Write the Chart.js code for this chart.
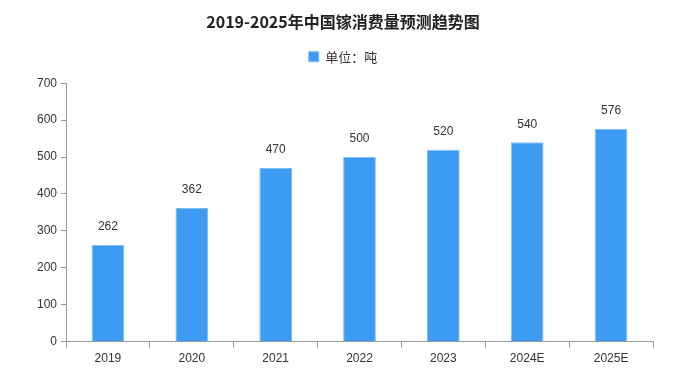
<!DOCTYPE html>
<html>
<head>
<meta charset="utf-8">
<script src="https://cdn.jsdelivr.net/npm/chart.js@4/dist/chart.umd.min.js"></script>
<style>
html,body{margin:0;padding:0;background:#fff;}
#wrap{width:699px;height:378px;}
</style>
</head>
<body>
<div id="wrap"><canvas id="c" width="699" height="378"></canvas></div>
<script>
const categories = ['2019','2020','2021','2022','2023','2024E','2025E'];
const consumption = [262,362,470,500,520,540,576];
const yTicks = [0,100,200,300,400,500,600,700];
const titleText = '2019-2025年中国镓消费量预测趋势图';
const seriesName = '单位：吨';

const labelPlugin = {
  id: 'barLabels',
  afterDatasetsDraw(chart) {
    const ctx = chart.ctx;
    const meta = chart.getDatasetMeta(0);
    ctx.save();
    ctx.font = '12px "Liberation Sans", Arial, sans-serif';
    ctx.fillStyle = '#333';
    ctx.textAlign = 'center';
    ctx.textBaseline = 'middle';
    meta.data.forEach((bar, i) => {
      ctx.fillText(String(chart.data.datasets[0].data[i]), bar.x, bar.y - 18);
    });
    ctx.restore();
  }
};

const legendSpace = {
  id: 'legendSpace',
  beforeInit(chart) {
    const origFit = chart.legend.fit;
    chart.legend.fit = function () {
      origFit.bind(chart.legend)();
      this.height += 10;
    };
  }
};

new Chart(document.getElementById('c'), {
  type: 'bar',
  data: {
    labels: categories,
    datasets: [{
      label: seriesName,
      data: consumption,
      backgroundColor: '#3d9bf3',
      borderColor: '#7fbcf5',
      borderWidth: 1,
      categoryPercentage: 1,
      barPercentage: 0.39
    }]
  },
  options: {
    responsive: false,
    animation: false,
    devicePixelRatio: 1,
    layout: { padding: { left: 33, right: 46, top: 8, bottom: 8 } },
    plugins: {
      title: {
        display: true,
        text: titleText,
        color: '#222',
        font: { family: '"Noto Sans CJK SC", sans-serif', size: 16, weight: 'bold' },
        padding: { top: 4, bottom: 9 }
      },
      legend: {
        display: true,
        labels: {
          boxWidth: 10, boxHeight: 10,
          color: '#333',
          font: { family: '"Noto Sans CJK SC", sans-serif', size: 13 },
          padding: 10
        }
      },
      tooltip: { enabled: false }
    },
    scales: {
      x: {
        grid: { offset: true, drawOnChartArea: false, tickLength: 6, color: '#999' },
        border: { color: '#999' },
        ticks: { color: '#333', font: { family: '"Liberation Sans", Arial, sans-serif', size: 12 }, padding: 4 }
      },
      y: {
        min: 0, max: 700,
        afterBuildTicks(scale) { scale.ticks = yTicks.map(v => ({ value: v })); },
        grid: { drawOnChartArea: false, tickLength: 5, color: '#999' },
        border: { color: '#999' },
        ticks: { color: '#333', font: { family: '"Liberation Sans", Arial, sans-serif', size: 12 }, padding: 4 }
      }
    }
  },
  plugins: [labelPlugin, legendSpace]
});
</script>
</body>
</html>
